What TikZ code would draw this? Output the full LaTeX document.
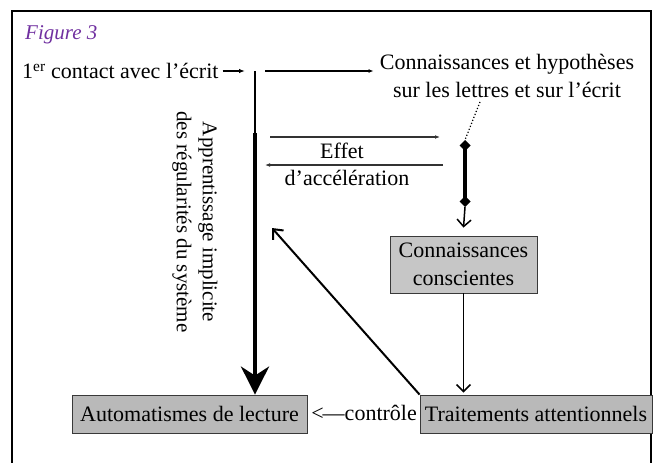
\documentclass[tikz,border=0pt]{standalone}
\usepackage{fontspec}
\setmainfont{Liberation Serif}
\usetikzlibrary{arrows.meta}
\definecolor{figpurple}{RGB}{112,48,160}
\tikzstyle{graybox} = [draw=gray!45!black, thick, rectangle, fill=gray!55, inner sep=0pt, align=center]
\tikzstyle{plain} = [inner sep=0pt, align=center]
\tikzstyle{effet} = [line width=1.2pt, gray!40!black, -{Latex[length=5pt]}]

\begin{document}
\begin{tikzpicture}[x=1pt, y=-1pt, font=\fontsize{22}{28}\selectfont]
    \useasboundingbox (0,0) rectangle (656,463);
    \draw[line width=1.8pt] (12,463) -- (12,11) -- (651,11) -- (651,463);
    \node[plain, text=figpurple, font=\fontsize{21}{24}\selectfont\itshape, anchor=west] (fig) at (25,35) {Figure 3};
    % textes
    \node[plain, anchor=west] (contact) at (22,71) {1\textsuperscript{er} contact avec l'écrit};
    \node[plain] (hyp) at (507,76) {Connaissances et hypothèses\\sur les lettres et sur l'écrit};
    \node[plain, rotate=-90, font=\fontsize{21}{26}\selectfont] (appr) at (195,222) {Apprentissage implicite\\des régularités du système};
    \node[plain] (effet) at (342,151) {Effet};
    \node[plain] (accel) at (347,178) {d'accélération};
    % boites
    \node[graybox, fill=gray!45, minimum width=147, minimum height=57] (consc) at (463.5,264.5) {Connaissances\\conscientes};
    \node[graybox, minimum width=235, minimum height=38] (auto) at (189.5,414) {Automatismes de lecture};
    \node[graybox, minimum width=232, minimum height=38] (trait) at (536,414) {Traitements attentionnels};
    \node[plain, anchor=east] (ctrl) at (417,413) {<\kern-1pt---contrôle};
    % fleches
    \coordinate (top) at (255,71);
    \coordinate (thick) at (255,133);
    \coordinate (dtop) at (465,140);
    \coordinate (dbot) at (465,207);
    \coordinate (ea) at (270,137);
    \coordinate (eb) at (440,137);
    \coordinate (fa) at (443,165);
    \coordinate (fb) at (265,165);
    \coordinate (diag) at (272,228);
    \draw[line width=1.2pt, -{Latex[length=6pt]}] ([xshift=4pt]contact.east) -- ([xshift=-10pt]top);
    \draw[line width=1.2pt, -{Latex[length=5pt]}, shorten >=6pt] ([xshift=10pt]top) -- (top -| hyp.west);
    \draw[line width=1.5pt] (top) -- (thick);
    \draw[line width=4pt, -{Stealth[length=28pt,width=28pt,inset=9pt]}] (thick) -- (top |- auto.north);
    \draw[dotted, line width=1.2pt] ([xshift=-27pt,yshift=-4pt]hyp.south) -- (dtop);
    \draw[line width=3.5pt, {Diamond[length=11pt,width=11pt]}-{Diamond[length=11pt,width=11pt]}] (dtop) -- (dbot);
    \draw[line width=1.5pt, -{Straight Barb[length=7pt,width=14pt]}] (dbot) -- ([yshift=8pt]consc.north);
    \draw[effet] (ea) -- (eb);
    \draw[effet] (fa) -- (fb);
    \draw[line width=1.5pt, -{Straight Barb[length=7pt,width=14pt]}] (consc.south) -- ([yshift=2pt]consc.south |- trait.north);
    \draw[line width=2pt, -{Straight Barb[length=8pt,width=14pt]}] (trait.north west) -- (diag);
\end{tikzpicture}
\end{document}
